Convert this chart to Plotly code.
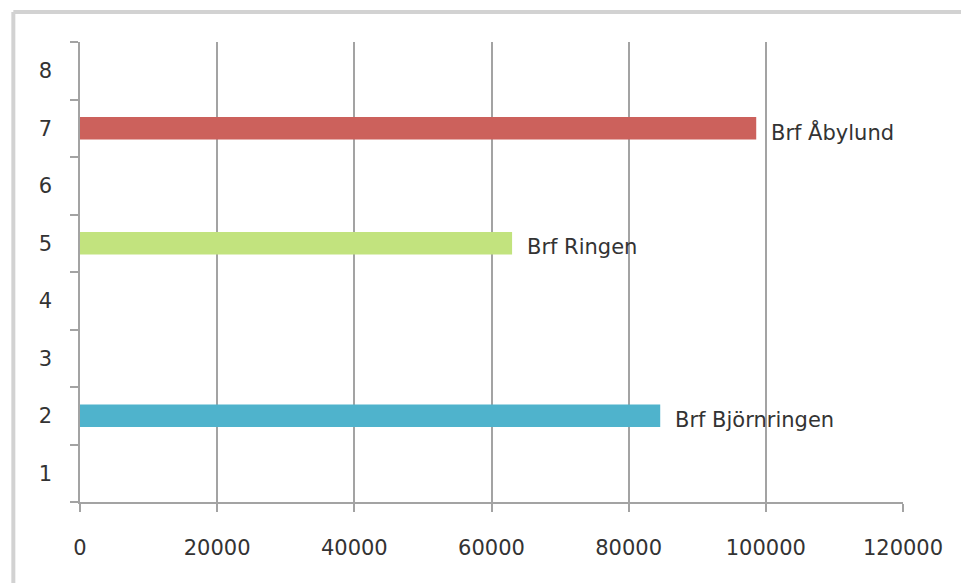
import plotly.graph_objects as go

categories = ["1", "2", "3", "4", "5", "6", "7", "8"]
bar_cats = ["2", "5", "7"]
bar_values = [84600, 63000, 98600]
bar_labels = ["Brf Björnringen", "Brf Ringen", "Brf Åbylund"]
bar_colors = ["#4fb3cc", "#c2e37e", "#cc615c"]
x_ticks = [0, 20000, 40000, 60000, 80000, 100000, 120000]

FONT = "DejaVu Sans"
TXT = "#333333"
GRID = "#a3a3a3"

fig = go.Figure()
for c, v, col in zip(bar_cats, bar_values, bar_colors):
    fig.add_trace(go.Bar(y=[c], x=[v], orientation="h", width=0.39,
                         marker=dict(color=col, line=dict(width=0)),
                         showlegend=False, hoverinfo="skip"))

for c, v, lab in zip(bar_cats, bar_values, bar_labels):
    fig.add_annotation(x=v, y=categories.index(c), text=lab, showarrow=False,
                       xanchor="left", xshift=13, yshift=-4,
                       font=dict(family=FONT, size=21, color=TXT))

# outer frame (top and left edges visible)
fig.add_shape(type="line", xref="paper", yref="paper", x0=-0.081, x1=1.2,
              y0=1.0652, y1=1.0652, line=dict(color="#d2d2d2", width=4))
fig.add_shape(type="line", xref="paper", yref="paper", x0=-0.081, x1=-0.081,
              y0=1.0652, y1=-0.3, line=dict(color="#d2d2d2", width=4))

fig.update_layout(
    width=961, height=583,
    margin=dict(l=80, r=58, t=42, b=81),
    paper_bgcolor="white", plot_bgcolor="white",
    barmode="overlay",
    font=dict(family=FONT, size=21, color=TXT),
    xaxis=dict(range=[0, 120000], tickvals=x_ticks, ticktext=[str(t) for t in x_ticks],
               showgrid=True, gridcolor=GRID, gridwidth=1.5,
               showline=True, linecolor=GRID, linewidth=1.5,
               ticks="outside", ticklen=8, tickcolor=GRID, tickwidth=1.5,
               ticklabelstandoff=18, zeroline=False,
               tickfont=dict(family=FONT, size=21, color=TXT)),
    yaxis=dict(type="category", categoryorder="array", categoryarray=categories,
               tickvals=categories, range=[-0.5, 7.5],
               showgrid=False, showline=True, linecolor=GRID, linewidth=1.5,
               ticks="outside", tickson="boundaries", ticklen=8, tickcolor=GRID,
               tickwidth=1.5, ticklabelstandoff=22,
               tickfont=dict(family=FONT, size=21, color=TXT)),
)

fig.write_html("out.html")
